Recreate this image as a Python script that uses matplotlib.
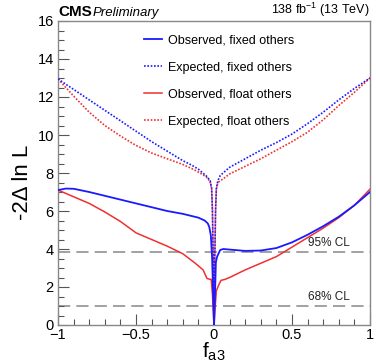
import matplotlib
matplotlib.use("Agg")
import matplotlib.pyplot as plt

plt.rcParams['font.family'] = ['Liberation Sans', 'DejaVu Sans']
plt.rcParams['mathtext.fontset'] = 'custom'
plt.rcParams['mathtext.rm'] = 'Liberation Sans'
plt.rcParams['mathtext.it'] = 'Liberation Sans:italic'
plt.rcParams['mathtext.bf'] = 'Liberation Sans:bold'

# Observed, fixed others
obs_fixed_x = [-1, -0.95, -0.9, -0.8, -0.7, -0.6, -0.5, -0.4, -0.3, -0.2, -0.1, -0.06, -0.04, -0.03,
               -0.02, -0.012, -0.006, 0, 0.006, 0.012, 0.02, 0.04, 0.06, 0.1, 0.2, 0.3, 0.4, 0.5,
               0.6, 0.7, 0.8, 0.9, 1.0]
obs_fixed_y = [7.1, 7.18, 7.17, 7.0, 6.8, 6.6, 6.4, 6.2, 6.0, 5.85, 5.65, 5.5, 5.35, 5.15,
               4.7, 3.5, 1.8, 0.0, 1.5, 3.3, 3.6, 3.95, 4.0, 3.97, 3.9, 3.92, 4.05, 4.35,
               4.75, 5.2, 5.7, 6.3, 7.0]

# Expected, fixed others
exp_fixed_x = [-1, -0.9, -0.8, -0.7, -0.6, -0.5, -0.4, -0.3, -0.2, -0.14, -0.1, -0.05, -0.025,
               -0.015, -0.01, -0.005, 0, 0.005, 0.01, 0.015, 0.025, 0.04, 0.1, 0.2, 0.3, 0.4,
               0.5, 0.6, 0.7, 0.8, 0.9, 1.0]
exp_fixed_y = [12.95, 12.4, 11.85, 11.3, 10.75, 10.2, 9.65, 9.15, 8.65, 8.4, 8.2, 7.85, 7.6,
               7.2, 6.0, 3.5, 0.0, 3.5, 6.0, 7.2, 7.6, 7.87, 8.3, 8.75, 9.2, 9.6,
               10.05, 10.6, 11.2, 11.85, 12.45, 13.0]

# Observed, float others
obs_float_x = [-1, -0.9, -0.8, -0.7, -0.6, -0.5, -0.4, -0.3, -0.2, -0.12, -0.07, -0.045, -0.025,
               -0.018, -0.01, 0, 0.008, 0.015, 0.03, 0.045, 0.07, 0.1, 0.2, 0.3, 0.4, 0.5,
               0.6, 0.7, 0.8, 0.9, 1.0]
obs_float_y = [7.1, 6.75, 6.4, 5.95, 5.45, 4.85, 4.5, 4.15, 3.75, 3.25, 2.9, 2.45, 2.4,
               2.4, 1.6, 0.0, 1.0, 1.8, 2.1, 2.35, 2.4, 2.5, 2.9, 3.25, 3.6, 4.1,
               4.6, 5.1, 5.65, 6.3, 7.15]

# Expected, float others
exp_float_x = [-1, -0.9, -0.8, -0.7, -0.6, -0.5, -0.4, -0.3, -0.2, -0.14, -0.1, -0.05, -0.025,
               -0.015, -0.01, -0.005, 0, 0.005, 0.01, 0.015, 0.025, 0.06, 0.1, 0.2, 0.3, 0.4,
               0.5, 0.6, 0.7, 0.8, 0.9, 1.0]
exp_float_y = [12.95, 12.05, 11.2, 10.5, 9.95, 9.45, 9.05, 8.75, 8.45, 8.22, 8.05, 7.8, 7.55,
               7.15, 6.0, 3.5, 0.0, 3.5, 6.0, 7.15, 7.5, 7.7, 7.95, 8.35, 8.75, 9.2,
               9.65, 10.15, 10.8, 11.55, 12.25, 13.0]

cl_levels = [3.84, 1.0]
cl_labels = ["95% CL", "68% CL"]

BLUE = '#1a1aff'
RED = '#f03030'

fig = plt.figure(figsize=(3.76, 3.63), dpi=100)
ax = fig.add_axes([58/376, 1 - 325/363, 312/376, 304/363])

for lvl, lab in zip(cl_levels, cl_labels):
    ax.axhline(lvl, color='#888888', lw=1.1, ls=(0, (8, 4)), zorder=1)
    ax.text(0.735, lvl + 0.15, lab, ha='center', va='bottom', fontsize=8.5, color='#222222')

ax.plot(obs_fixed_x, obs_fixed_y, color=BLUE, lw=1.3, label='Observed, fixed others', zorder=3)
ax.plot(exp_fixed_x, exp_fixed_y, color=BLUE, lw=1.2, ls=(0, (1, 1)), label='Expected, fixed others', zorder=3)
ax.plot(obs_float_x, obs_float_y, color=RED, lw=1.1, label='Observed, float others', zorder=2)
ax.plot(exp_float_x, exp_float_y, color=RED, lw=1.2, ls=(0, (1, 1)), label='Expected, float others', zorder=2)

ax.set_xlim(-1, 1)
ax.set_ylim(0, 16)
ax.set_xticks([-1, -0.5, 0, 0.5, 1])
ax.set_xticklabels(['\u22121', '\u22120.5', '0', '0.5', '1'])
ax.set_xticks([i / 10 for i in range(-10, 11)], minor=True)
ax.set_yticks([0, 2, 4, 6, 8, 10, 12, 14, 16])
ax.set_yticks([i / 2 for i in range(0, 33)], minor=True)
ax.tick_params(which='both', direction='in', top=False, right=False, labelsize=10.5, color='#555555')
ax.tick_params(which='major', length=8, width=0.8)
ax.tick_params(which='minor', length=4, width=0.8)
ax.tick_params(axis='x', pad=2)
ax.tick_params(axis='y', pad=3)
for s in ax.spines.values():
    s.set_color('#888888')
    s.set_linewidth(1.0)

ax.set_ylabel('-2\u0394 ln L', fontsize=16)
ax.yaxis.set_label_coords(-0.08, 0.47)
ax.set_xlabel(r'f$_{\mathrm{a3}}$', fontsize=15)
ax.xaxis.set_label_coords(0.5, -0.052)

leg = ax.legend(loc='upper left', bbox_to_anchor=(0.24, 0.992), frameon=False, fontsize=9,
                handlelength=1.45, handletextpad=0.45, labelspacing=1.2)

ax.text(0.0, 1.005, 'CMS', transform=ax.transAxes, fontsize=11, fontweight='bold', ha='left', va='bottom')
ax.text(0.11, 1.005, 'Preliminary', transform=ax.transAxes, fontsize=9.5, style='italic', ha='left', va='bottom')
ax.text(1.0, 1.005, r'138 fb$^{-1}$ (13 TeV)', transform=ax.transAxes, fontsize=9, ha='right', va='bottom')

fig.savefig('out.png', dpi=100)
